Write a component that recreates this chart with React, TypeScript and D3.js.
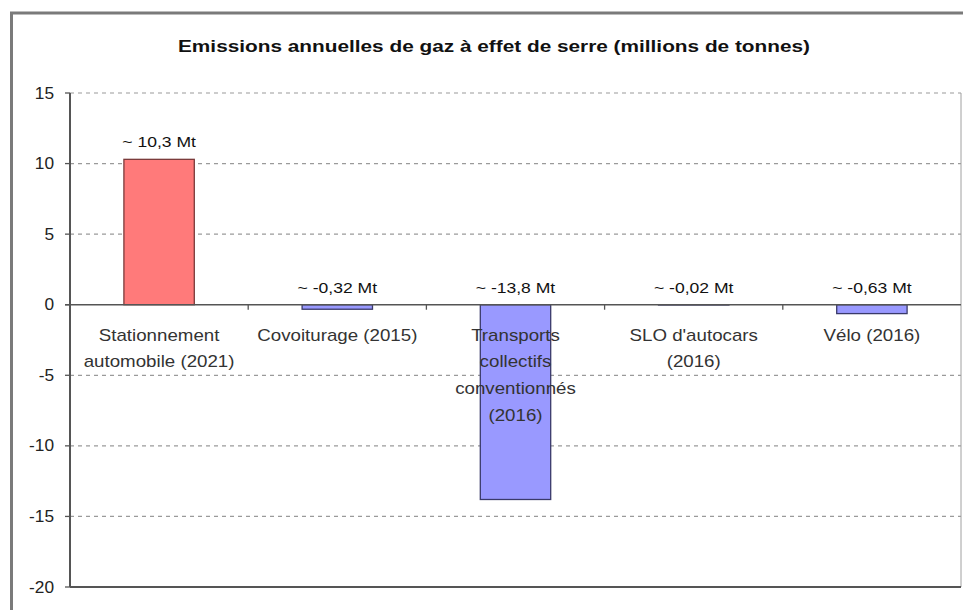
import React from "react";
import * as d3 from "d3";

const TITLE = "Emissions annuelles de gaz à effet de serre (millions de tonnes)";
const categories = [
  ["Stationnement", "automobile (2021)"],
  ["Covoiturage (2015)"],
  ["Transports", "collectifs", "conventionnés", "(2016)"],
  ["SLO d'autocars", "(2016)"],
  ["Vélo (2016)"],
];
const values = [10.3, -0.32, -13.8, -0.02, -0.63];
const valueLabels = ["~ 10,3 Mt", "~ -0,32 Mt", "~ -13,8 Mt", "~ -0,02 Mt", "~ -0,63 Mt"];
const yTicks = [15, 10, 5, 0, -5, -10, -15, -20];

const W = 963;
const H = 610;
const plot = { left: 70, right: 961, top: 93, bottom: 587 };
const FONT = "'Liberation Sans', Arial, sans-serif";
const SX = 1.17;

export default function App() {
  const x = d3
    .scaleBand<number>()
    .domain(values.map((_, i) => i))
    .range([plot.left, plot.right])
    .padding(0);
  const y = d3.scaleLinear().domain([-20, 15]).range([plot.bottom, plot.top]);
  const bw = x.bandwidth() * 0.395;
  const y0 = y(0);

  return (
    <svg
      width={W}
      height={H}
      style={{ position: "absolute", left: 0, top: 0, background: "#fff" }}
      fontFamily={FONT}
    >
      <rect x={0} y={0} width={W} height={H} fill="#fff" />
      {/* outer frame (cropped) */}
      <line x1={10} x2={W} y1={13} y2={13} stroke="#7a7a7a" strokeWidth={3} />
      <line x1={11.5} x2={11.5} y1={13} y2={H} stroke="#7a7a7a" strokeWidth={3} />

      {/* title */}
      <text
        x={494}
        y={52}
        textAnchor="middle"
        fontSize={17}
        fontWeight="bold"
        fill="#111"
        textLength={632}
        lengthAdjust="spacingAndGlyphs"
      >
        {TITLE}
      </text>

      {/* gridlines */}
      {yTicks
        .filter((t) => t !== 0 && t !== -20)
        .map((t) => (
          <line
            key={"g" + t}
            x1={plot.left}
            x2={plot.right}
            y1={y(t)}
            y2={y(t)}
            stroke="#9a9a9a"
            strokeWidth={1.2}
            strokeDasharray="4 4"
          />
        ))}

      {/* plot right border */}
      <line x1={plot.right} x2={plot.right} y1={plot.top} y2={plot.bottom} stroke="#a0a0a0" strokeWidth={1} />

      {/* bars */}
      {values.map((v, i) => {
        const cx = (x(i) as number) + x.bandwidth() / 2;
        const top = Math.min(y(v), y0);
        const h = Math.abs(y(v) - y0);
        return (
          <rect
            key={"b" + i}
            x={cx - bw / 2}
            y={top}
            width={bw}
            height={Math.max(h, 0.3)}
            fill={v >= 0 ? "#ff7a7a" : "#9999ff"}
            stroke={v >= 0 ? "#7a3a3a" : "#3a3a6a"}
            strokeWidth={1.3}
          />
        );
      })}

      {/* bottom border of plot */}
      <line x1={plot.left} x2={plot.right} y1={plot.bottom} y2={plot.bottom} stroke="#555" strokeWidth={2} />
      {/* zero line */}
      <line x1={plot.left - 5} x2={plot.right} y1={y0} y2={y0} stroke="#555" strokeWidth={1.6} />
      {/* y axis */}
      <line x1={plot.left} x2={plot.left} y1={plot.top} y2={plot.bottom} stroke="#555" strokeWidth={2} />

      {/* y ticks and labels */}
      {yTicks.map((t) => (
        <g key={"t" + t}>
          <line x1={plot.left - 5} x2={plot.left} y1={y(t)} y2={y(t)} stroke="#555" strokeWidth={1.3} />
          <text
            transform={`translate(54,${y(t) + 5.5}) scale(1.08,1)`}
            textAnchor="end"
            fontSize={16}
            fill="#222"
          >
            {t}
          </text>
        </g>
      ))}

      {/* x category ticks */}
      {values.slice(1).map((_, i) => {
        const xt = x(i + 1) as number;
        return <line key={"xt" + i} x1={xt} x2={xt} y1={y0} y2={y0 + 5} stroke="#555" strokeWidth={1.3} />;
      })}

      {/* value labels */}
      {values.map((v, i) => {
        const cx = (x(i) as number) + x.bandwidth() / 2;
        const base = Math.min(y(v), y0) - 12;
        return (
          <text
            key={"v" + i}
            transform={`translate(${cx},${base}) scale(${SX},1)`}
            textAnchor="middle"
            fontSize={15}
            fill="#111"
          >
            {valueLabels[i]}
          </text>
        );
      })}

      {/* category labels */}
      {categories.map((lines, i) => {
        const cx = (x(i) as number) + x.bandwidth() / 2;
        return lines.map((ln, j) => (
          <text
            key={"c" + i + "-" + j}
            transform={`translate(${cx},${y0 + 36 + j * 26.7}) scale(${SX},1)`}
            textAnchor="middle"
            fontSize={16}
            fill="#333"
          >
            {ln}
          </text>
        ));
      })}
    </svg>
  );
}
